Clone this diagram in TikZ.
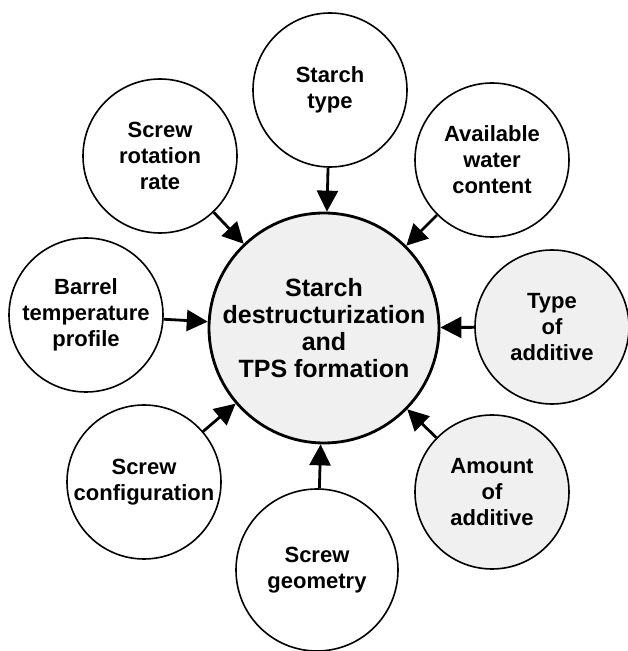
\documentclass[tikz,border=0pt]{standalone}
\usepackage{fontspec}
\setmainfont{Liberation Sans}
\usetikzlibrary{arrows.meta}
\tikzset{%
    >={Triangle[length=21pt,width=21pt]}, % filled arrow heads
    factor/.style={circle,draw,line width=1.6pt,inner sep=0pt,
        minimum size=154pt,align=center,
        font=\fontsize{22}{26}\selectfont\bfseries},%
    shaded factor/.style={factor,fill=gray!12},%
    core/.style={circle,draw,line width=2.8pt,fill=gray!12,inner sep=0pt,
        minimum size=230pt,align=center,
        font=\fontsize{25}{27}\selectfont\bfseries},%
    feed/.style={->,line width=2.8pt}%
}
\begin{document}
\begin{tikzpicture}[x=1pt,y=1pt] % "TPS" influence diagram

    \useasboundingbox (0,0) rectangle (628,651);

    % central process
    \node[core] (core) at (324,323) {Starch\\destructurization\\and\\TPS formation};

    % process factors round it
    \node[factor] (type) at (330,561) {Starch\\type};
    \node[factor] (water) at (492,491) {Available\\water\\content};
    \node[shaded factor] (kind) at (552,324) {Type\\of\\additive};
    \node[shaded factor] (amount) at (492,159) {Amount\\of\\additive};
    \node[factor,minimum size=162pt] (geometry) at (317,81) {Screw\\geometry};
    \node[factor] (config) at (144,169) {Screw\\configuration};
    \node[factor] (barrel) at (86,336) {Barrel\\temperature\\profile};
    \node[factor] (rotation) at (160,495) {Screw\\rotation\\rate};

    % every factor acts on the core
    \foreach \f in {type,water,kind,amount,geometry,config,barrel,rotation}
        \draw[feed] (\f) -- (core);

\end{tikzpicture}
\end{document}
